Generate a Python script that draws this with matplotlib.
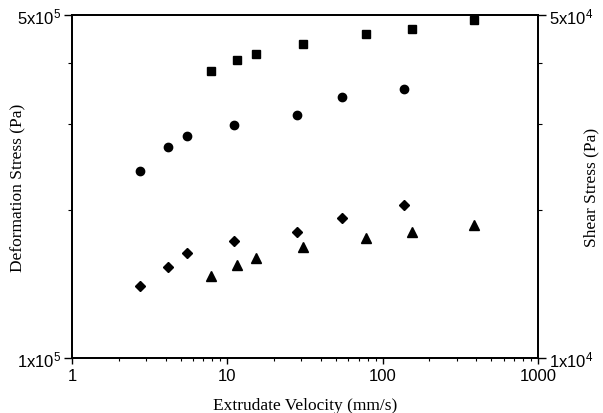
import numpy as np
import matplotlib
matplotlib.use("Agg")
from matplotlib import pyplot as plt
from matplotlib.ticker import FixedLocator, NullFormatter

plt.rcParams['mathtext.fontset'] = 'custom'
plt.rcParams['mathtext.rm'] = 'Liberation Sans'
plt.rcParams['mathtext.it'] = 'Liberation Sans'

# velocities (mm/s)
vel_a = [2.75, 4.14, 5.51, 11.0, 27.9, 54.4, 138]
vel_b = [7.86, 11.5, 15.3, 30.6, 77.8, 154.5, 385]

# deformation stress (Pa), left axis
circles = [2.41e5, 2.69e5, 2.84e5, 2.98e5, 3.12e5, 3.40e5, 3.54e5]
squares = [3.85e5, 4.05e5, 4.16e5, 4.36e5, 4.57e5, 4.68e5, 4.88e5]

# shear stress (Pa), right axis
diamonds = [1.40e4, 1.535e4, 1.64e4, 1.73e4, 1.81e4, 1.93e4, 2.05e4]
triangles = [1.47e4, 1.55e4, 1.60e4, 1.68e4, 1.76e4, 1.81e4, 1.87e4]

sans = 'Liberation Sans'
serif = 'Liberation Serif'
fs_tick = 12
fs_lab = 12.5

fig = plt.figure(figsize=(6.03, 4.14), dpi=100)
ax = fig.add_axes([0.1194, 0.1329, 0.7728, 0.8285])
ax2 = ax.twinx()

ax.plot(vel_b, squares, 's', color='black', markersize=6)
ax.plot(vel_a, circles, 'o', color='black', markersize=6)
ax2.plot(vel_a, diamonds, 'D', color='black', markersize=4.6)
ax2.plot(vel_b, triangles, '^', color='black', markersize=6.5)

ax.set_xscale('log')
ax.set_yscale('log')
ax2.set_yscale('log')
ax.set_xlim(1, 1000)
ax.set_ylim(1e5, 5e5)
ax2.set_ylim(1e4, 5e4)

ax.xaxis.set_major_locator(FixedLocator([1, 10, 100, 1000]))
ax.set_xticklabels(['1', '10', '100', '1000'], fontfamily=sans, fontsize=fs_tick)
minx = [m * d for d in [1, 10, 100] for m in range(2, 10)]
ax.xaxis.set_minor_locator(FixedLocator(minx))
ax.xaxis.set_minor_formatter(NullFormatter())

ax.yaxis.set_major_locator(FixedLocator([1e5, 5e5]))
ax.set_yticklabels([r'1x10$^5$', r'5x10$^5$'], fontfamily=sans, fontsize=fs_tick)
ax.yaxis.set_minor_locator(FixedLocator([2e5, 3e5, 4e5]))
ax.yaxis.set_minor_formatter(NullFormatter())

ax2.yaxis.set_major_locator(FixedLocator([1e4, 5e4]))
ax2.set_yticklabels([r'1x10$^4$', r'5x10$^4$'], fontfamily=sans, fontsize=fs_tick)
ax2.yaxis.set_minor_locator(FixedLocator([2e4, 3e4, 4e4]))
ax2.yaxis.set_minor_formatter(NullFormatter())

for a in (ax, ax2):
    a.tick_params(which='major', direction='out', length=6, width=1, pad=2)
    a.tick_params(which='minor', direction='out', length=3, width=0.8)
    for s in a.spines.values():
        s.set_linewidth(1.3)
ax.tick_params(axis='x', which='major', length=4.5, pad=3)
ax.tick_params(axis='x', which='minor', length=2.5)

ax.set_xlabel('Extrudate Velocity (mm/s)', fontfamily=serif, fontsize=fs_lab)
ax.set_ylabel('Deformation Stress (Pa)', fontfamily=serif, fontsize=fs_lab)
ax2.set_ylabel('Shear Stress (Pa)', fontfamily=serif, fontsize=fs_lab)
ax.xaxis.set_label_coords(0.5, -0.113)
ax.yaxis.set_label_coords(-0.097, 0.5)
ax2.yaxis.set_label_coords(1.097, 0.5)

fig.savefig('out.png', dpi=100)
